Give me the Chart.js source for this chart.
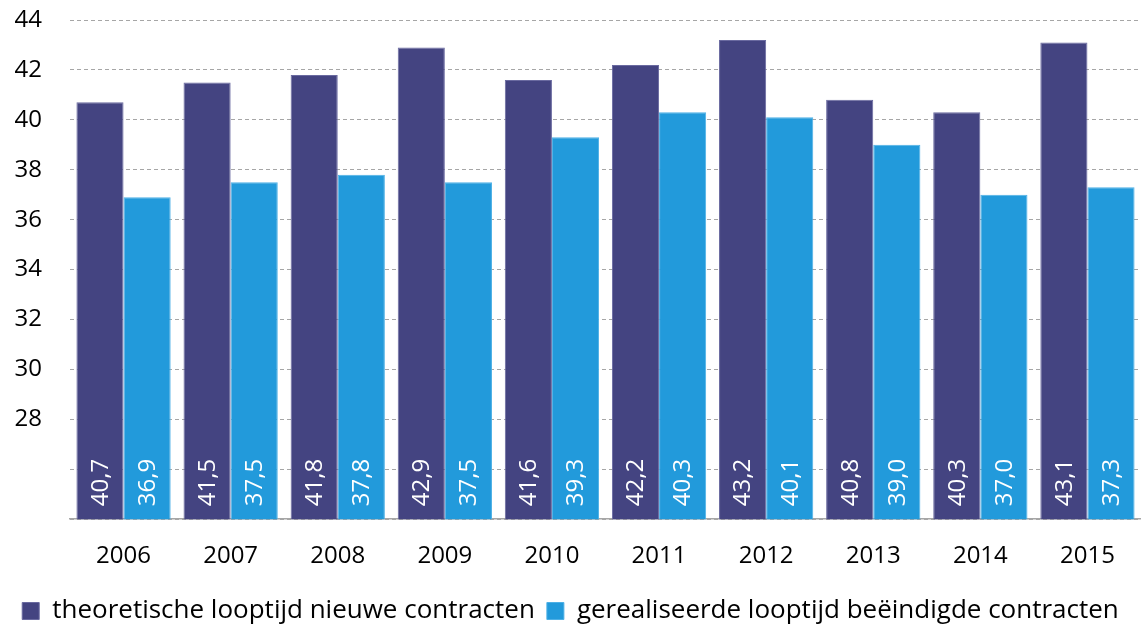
<!DOCTYPE html>
<html>
<head>
<meta charset="utf-8">
<script src="https://cdn.jsdelivr.net/npm/chart.js@4.4.1/dist/chart.umd.min.js"></script>
<style>
  html, body { margin: 0; padding: 0; background: #fff; }
  #wrap { width: 1141px; height: 630px; }
</style>
</head>
<body>
<div id="wrap"><canvas id="chart"></canvas></div>
<script>
const years = ["2006", "2007", "2008", "2009", "2010", "2011", "2012", "2013", "2014", "2015"];
const theoretisch = [40.7, 41.5, 41.8, 42.9, 41.6, 42.2, 43.2, 40.8, 40.3, 43.1];
const gerealiseerd = [36.9, 37.5, 37.8, 37.5, 39.3, 40.3, 40.1, 39.0, 37.0, 37.3];
const seriesNames = ["theoretische looptijd nieuwe contracten", "gerealiseerde looptijd beëindigde contracten"];
const hiddenTicks = [24, 26];

const fontFamily = "'Open Sans', sans-serif";

// white rotated labels at the foot of each bar
const barLabels = {
  id: "barLabels",
  afterDatasetsDraw(chart) {
    const ctx = chart.ctx;
    const bottom = chart.scales.y.bottom;
    ctx.save();
    ctx.fillStyle = "#ffffff";
    ctx.font = "24px " + fontFamily;
    ctx.textAlign = "left";
    ctx.textBaseline = "middle";
    chart.data.datasets.forEach((ds, i) => {
      chart.getDatasetMeta(i).data.forEach((bar, j) => {
        const txt = ds.data[j].toFixed(1).replace(".", ",");
        ctx.save();
        ctx.translate(bar.x + 1, bottom - 13);
        ctx.rotate(-Math.PI / 2);
        ctx.fillText(txt, 0, 0);
        ctx.restore();
      });
    });
    ctx.restore();
  },
};

new Chart(document.getElementById("chart"), {
  type: "bar",
  data: {
    labels: years,
    datasets: [
      {
        label: seriesNames[0],
        data: theoretisch,
        backgroundColor: "#444481",
        borderColor: "#6a6aa0",
        borderWidth: 1,
      },
      {
        label: seriesNames[1],
        data: gerealiseerd,
        backgroundColor: "#229ADB",
        borderColor: "#4db0e6",
        borderWidth: 1,
      },
    ],
  },
  options: {
    responsive: true,
    maintainAspectRatio: false,
    animation: false,
    categoryPercentage: 0.88,
    barPercentage: 1,
    layout: { padding: { top: 0, right: 0, left: 0, bottom: -4 } },
    plugins: {
      legend: {
        position: "bottom",
        labels: {
          boxWidth: 17,
          boxHeight: 17,
          padding: 12,
          color: "#000",
          font: { family: fontFamily, size: 26 },
        },
      },
      tooltip: { enabled: false },
    },
    scales: {
      x: {
        grid: { display: false },
        border: { display: true, color: "#a6a6a6", width: 1.5 },
        ticks: {
          color: "#000",
          padding: 15,
          font: { family: fontFamily, size: 24 },
        },
      },
      y: {
        min: 24,
        max: 44,
        afterFit(scale) {
          scale.width = 70;
          scale.paddingTop = 20;
          scale.paddingBottom = 0;
        },
        ticks: {
          stepSize: 2,
          color: "#000",
          padding: 28,
          font: { family: fontFamily, size: 24 },
          callback: (v) => (hiddenTicks.includes(v) ? "" : v),
        },
        grid: {
          color: "#a6a6a6",
          drawTicks: false,
        },
        border: { display: false, dash: [4, 3] },
      },
    },
  },
  plugins: [barLabels],
});
</script>
</body>
</html>
